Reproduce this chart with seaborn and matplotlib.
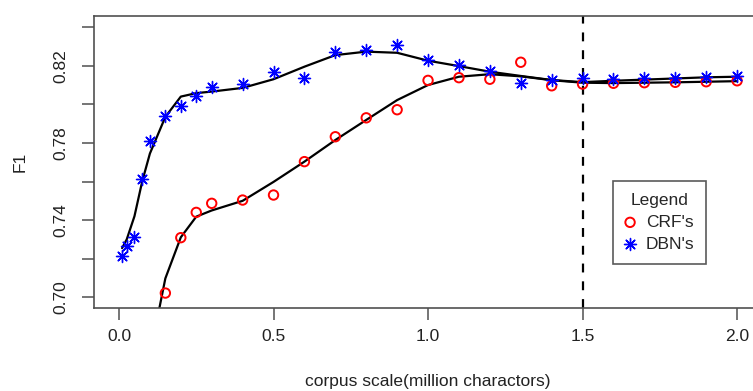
import matplotlib
matplotlib.use('Agg')
import matplotlib.pyplot as plt
import seaborn as sns

# Datos
crf_x = [0.15, 0.2, 0.25, 0.3, 0.4, 0.5, 0.6, 0.7, 0.8, 0.9, 1.0, 1.1, 1.2, 1.3, 1.4, 1.5, 1.6, 1.7, 1.8, 1.9, 2.0]
crf_f1 = [0.7022, 0.7309, 0.7440, 0.7487, 0.7504, 0.7530, 0.7703, 0.7832, 0.7930, 0.7972, 0.8124, 0.8138, 0.8130,
          0.8218, 0.8096, 0.8105, 0.8109, 0.8112, 0.8114, 0.8117, 0.8122]

dbn_x = [0.01, 0.025, 0.05, 0.075, 0.1, 0.15, 0.2, 0.25, 0.3, 0.4, 0.5, 0.6, 0.7, 0.8, 0.9, 1.0, 1.1, 1.2, 1.3, 1.4,
         1.5, 1.6, 1.7, 1.8, 1.9, 2.0]
dbn_f1 = [0.7214, 0.7266, 0.7314, 0.7613, 0.7810, 0.7941, 0.7991, 0.8043, 0.8088, 0.8105, 0.8166, 0.8135, 0.8269,
          0.8281, 0.8307, 0.8230, 0.8205, 0.8171, 0.8109, 0.8126, 0.8135, 0.8131, 0.8138, 0.8135, 0.8143, 0.8148]

# Curvas suavizadas (valores ajustados)
crf_fit_x = [0.1, 0.15, 0.2, 0.25, 0.3, 0.4, 0.5, 0.6, 0.7, 0.8, 0.9, 1.0, 1.1, 1.2, 1.3, 1.4, 1.5, 1.6, 1.7, 1.8,
             1.9, 2.0]
crf_fit = [0.6700, 0.7098, 0.7311, 0.7418, 0.7450, 0.7500, 0.7598, 0.7703, 0.7815, 0.7919, 0.8022, 0.8100, 0.8143,
           0.8156, 0.8145, 0.8125, 0.8112, 0.8110, 0.8112, 0.8114, 0.8117, 0.8120]

dbn_fit_x = dbn_x
dbn_fit = [0.7255, 0.7300, 0.7420, 0.7600, 0.7745, 0.7935, 0.8040, 0.8058, 0.8066, 0.8085, 0.8130, 0.8195, 0.8255,
           0.8273, 0.8267, 0.8226, 0.8198, 0.8169, 0.8147, 0.8126, 0.8115, 0.8122, 0.8128, 0.8134, 0.8140, 0.8143]

x_ticks = [0.0, 0.5, 1.0, 1.5, 2.0]
x_tick_labels = ['0.0', '0.5', '1.0', '1.5', '2.0']
y_ticks = [0.70, 0.72, 0.74, 0.76, 0.78, 0.80, 0.82, 0.84]
y_tick_labels = ['0.70', '', '0.74', '', '0.78', '', '0.82', '']

sns.set_style('ticks')
plt.rcParams['font.family'] = ['Liberation Sans', 'DejaVu Sans']
plt.rcParams['font.size'] = 12.5

fig = plt.figure(figsize=(7.53, 3.91), dpi=100)
ax = fig.add_axes([0.1252, 0.2130, 0.8865, 0.7468])

# Curvas ajustadas
sns.lineplot(x=crf_fit_x, y=crf_fit, color='black', linewidth=1.6, ax=ax, legend=False, sort=False)
sns.lineplot(x=dbn_fit_x, y=dbn_fit, color='black', linewidth=1.6, ax=ax, legend=False, sort=False)

# Puntos observados
sns.scatterplot(x=crf_x, y=crf_f1, marker='o', s=46, facecolor='none', edgecolor='#ff0000', linewidth=1.4,
                ax=ax, label="CRF's", zorder=3)
sns.scatterplot(x=dbn_x, y=dbn_f1, marker=(8, 2, 0), s=75, color='#0000ff', edgecolor='#0000ff', linewidth=1.0,
                ax=ax, label="DBN's", zorder=3)

# Linea vertical en 1.5
ax.axvline(1.5, color='black', linewidth=1.6, linestyle=(0, (4, 4)))

ax.set_xlim(-0.08, 2.08)
ax.set_ylim(0.69461, 0.84591)
ax.set_xticks(x_ticks)
ax.set_xticklabels(x_tick_labels)
ax.set_yticks(y_ticks)
ax.set_yticklabels(y_tick_labels, rotation=90, va='center')

for side in ['left', 'right', 'top', 'bottom']:
    ax.spines[side].set_visible(True)
    ax.spines[side].set_color('#505050')
    ax.spines[side].set_linewidth(1.2)
ax.tick_params(axis='both', length=8.6, width=1.1, color='#505050', labelcolor='#222222')
ax.tick_params(axis='y', pad=10)
ax.tick_params(axis='x', pad=7)

ax.set_xlabel('corpus scale(million charactors)', color='#222222', va='center')
ax.set_ylabel('F1', color='#222222', va='center')
ax.xaxis.set_label_coords(0.5, -0.251)
ax.yaxis.set_label_coords(-0.111, 0.5)

leg = ax.legend(title='Legend', loc='upper left', bbox_to_anchor=(612.7 / 753, 1 - 181 / 391),
                bbox_transform=fig.transFigure, borderaxespad=0, fancybox=False, frameon=True,
                edgecolor='#303030', handletextpad=0.6, handlelength=0.6, borderpad=0.7, labelspacing=0.38)
leg.get_frame().set_linewidth(1.2)

plt.savefig('out.png', dpi=100)
